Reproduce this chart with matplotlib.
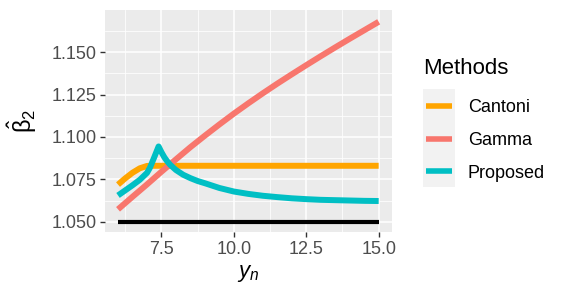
import matplotlib
matplotlib.use("Agg")
import matplotlib.pyplot as plt
from matplotlib.patches import Rectangle
from matplotlib.ticker import MultipleLocator

plt.rcParams['font.family'] = ['Liberation Sans', 'DejaVu Sans']
plt.rcParams['mathtext.fontset'] = 'custom'
plt.rcParams['mathtext.rm'] = 'Liberation Sans'
plt.rcParams['mathtext.it'] = 'Liberation Sans:italic'

# ---- data ----
gamma_x = [6, 6.5, 7, 7.5, 8, 8.5, 9, 9.5, 10, 10.5, 11, 11.5, 12, 12.5, 13, 13.5, 14, 14.5, 15]
gamma_y = [1.0573, 1.0647, 1.0720, 1.0795, 1.0868, 1.0940, 1.1008, 1.1074, 1.1138, 1.1199,
           1.1258, 1.1315, 1.1370, 1.1424, 1.1477, 1.1529, 1.1580, 1.1630, 1.1680]

cantoni_x = [6, 6.25, 6.5, 6.75, 7.0, 7.25, 8, 9, 10, 11, 12, 13, 14, 15]
cantoni_y = [1.0719, 1.0756, 1.0789, 1.0815, 1.0829, 1.0830, 1.0830, 1.0830, 1.0830,
             1.0830, 1.0830, 1.0830, 1.0830, 1.0830]

proposed_x = [6, 6.5, 6.75, 7.0, 7.1, 7.25, 7.4, 7.5, 7.6, 7.7, 7.8, 8.0, 8.25, 8.5, 8.75, 9,
              9.5, 10, 10.5, 11, 11.5, 12, 12.5, 13, 13.5, 14, 14.5, 15]
proposed_y = [1.0655, 1.0715, 1.0747, 1.0788, 1.0818, 1.0880, 1.0944, 1.0910, 1.0880, 1.0856,
              1.0836, 1.0805, 1.0777, 1.0757, 1.0740, 1.0727, 1.0699, 1.0678, 1.0664, 1.0653,
              1.0645, 1.0638, 1.0633, 1.0629, 1.0627, 1.0625, 1.0623, 1.0622]

true_x = [6, 15]
true_y = [1.05, 1.05]

methods = ["Cantoni", "Gamma", "Proposed"]
colors = {"Cantoni": "#FFA500", "Gamma": "#F8766D", "Proposed": "#00BFC4"}

xticks = [7.5, 10.0, 12.5, 15.0]
yticks = [1.050, 1.075, 1.100, 1.125, 1.150]

# ---- figure ----
W, H = 565, 296
fig = plt.figure(figsize=(W / 100, H / 100), dpi=100)
ax = fig.add_axes([105 / W, 1 - 232.3 / H, (391.7 - 105) / W, (232.3 - 10) / H])
ax.set_facecolor("#EBEBEB")
for s in ax.spines.values():
    s.set_visible(False)

ax.set_xlim(5.55, 15.45)
ax.set_ylim(1.04373, 1.17497)

ax.set_xticks(xticks)
ax.set_xticklabels([f"{v:.1f}" for v in xticks])
ax.xaxis.set_minor_locator(MultipleLocator(1.25))
ax.set_yticks(yticks)
ax.set_yticklabels([f"{v:.3f}" for v in yticks])
ax.yaxis.set_minor_locator(MultipleLocator(0.0125))

ax.grid(which="major", color="white", linewidth=1.1)
ax.grid(which="minor", color="white", linewidth=0.55)
ax.set_axisbelow(True)
ax.tick_params(which="major", length=3.5, width=1.0, color="#333333",
               labelsize=13, labelcolor="#4D4D4D", pad=2.5)
ax.tick_params(which="minor", length=0)

lw = 4.3
ax.plot(true_x, true_y, color="black", linewidth=3.0, solid_capstyle="butt")
ax.plot(cantoni_x, cantoni_y, color=colors["Cantoni"], linewidth=lw, label="Cantoni",
        solid_capstyle="butt")
ax.plot(gamma_x, gamma_y, color=colors["Gamma"], linewidth=lw, label="Gamma",
        solid_capstyle="butt")
ax.plot(proposed_x, proposed_y, color=colors["Proposed"], linewidth=lw, label="Proposed",
        solid_capstyle="butt")

ax.set_xlabel("$y_n$", fontsize=16, labelpad=4)
ax.set_ylabel(r"$\hat{\mathrm{\beta}}_2$", fontsize=17, labelpad=9)

# legend key background
fig.patches.append(Rectangle((423 / W, 1 - 187 / H), 32 / W, 98 / H,
                             transform=fig.transFigure, facecolor="#F2F2F2",
                             edgecolor="none", zorder=0))

fig.text(423 / W, 1 - 68 / H, "Methods", fontsize=16, ha="left", va="center",
         color="black")

handles, labels = ax.get_legend_handles_labels()
leg = fig.legend(handles, labels, loc="upper left",
                 bbox_to_anchor=(426 / W, 1 - 99.5 / H), frameon=False,
                 fontsize=13, handlelength=1.44,
                 handletextpad=0.87, labelspacing=0.86, borderpad=0,
                 borderaxespad=0)
for l in leg.get_lines():
    l.set_linewidth(4.0)

fig.savefig("out.png", dpi=100)
